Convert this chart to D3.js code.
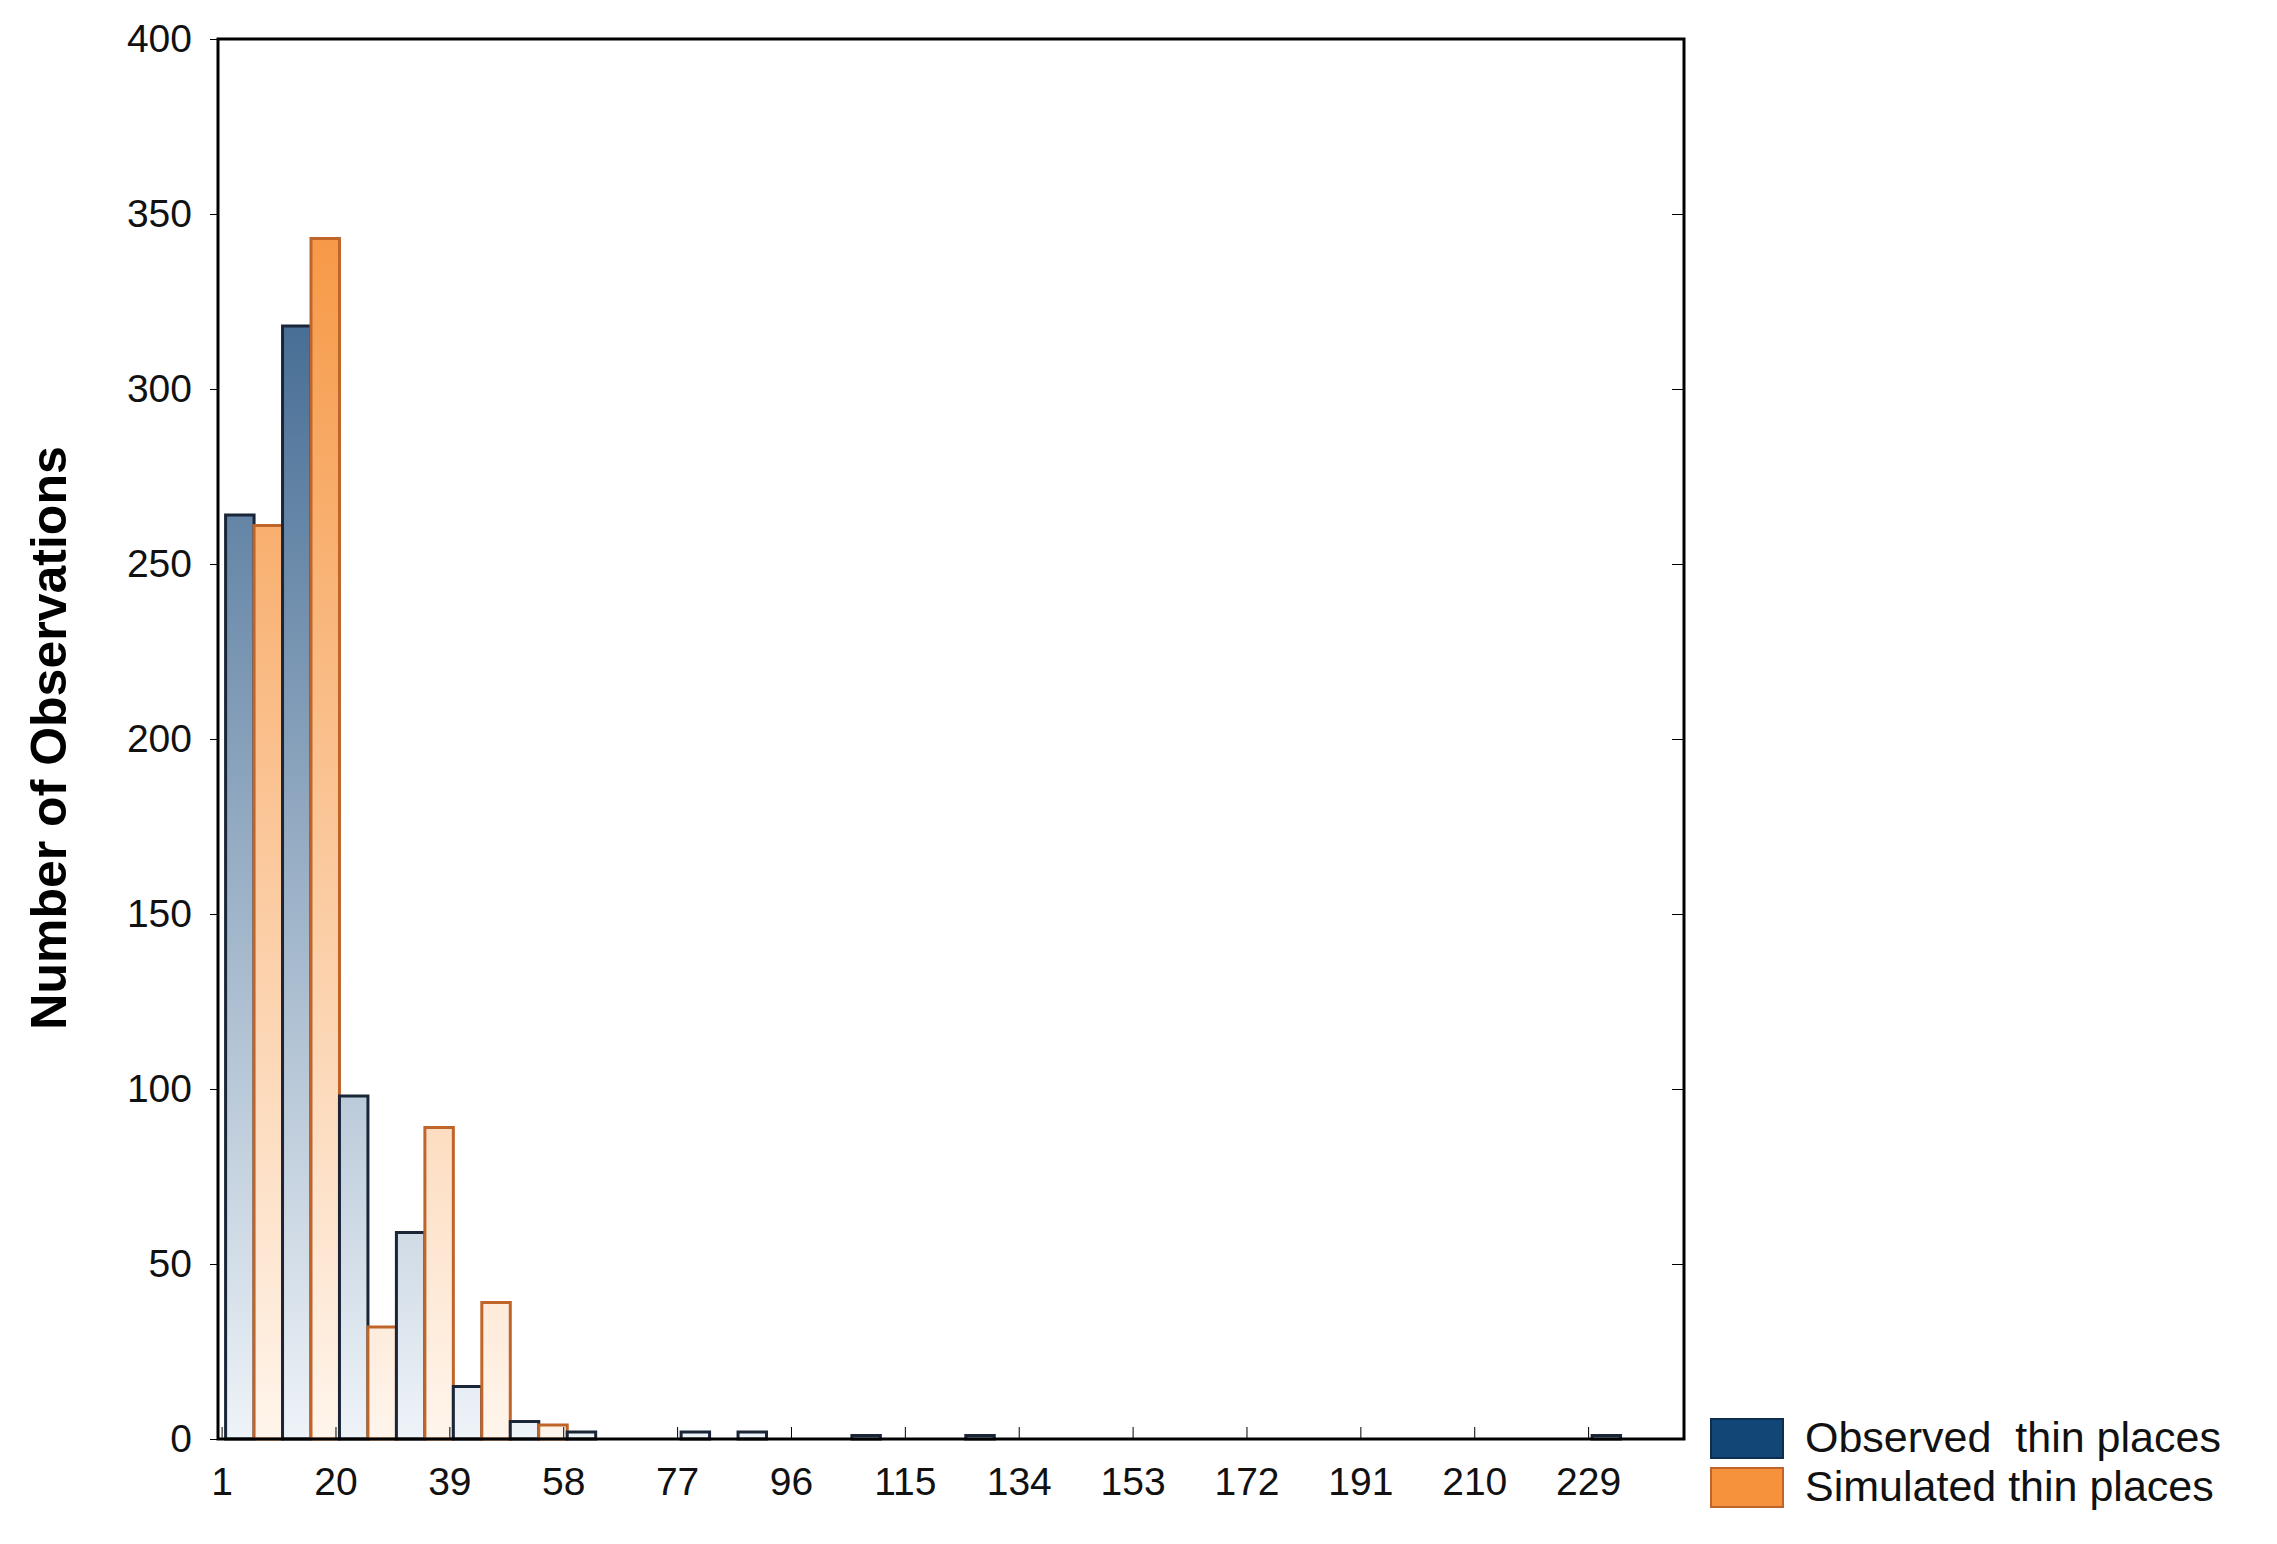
<!DOCTYPE html>
<html><head><meta charset="utf-8">
<script src="https://cdn.jsdelivr.net/npm/d3@7"></script>
<style>body{margin:0;background:#fff}text{font-family:"Liberation Sans Narrow","Arial Narrow","Liberation Sans",Arial,sans-serif}</style>
</head><body><svg width="2277" height="1544"></svg>
<script>
// bins of width 9.5 starting at 1
const binStart = 1, binWidth = 9.5
const observed = [264,318,98,59,15,5,2,0,2,2,0,1,0,1,0,0,0,0,0,0,0,0,0,0,1]
const simulated = [261,343,32,89,39,4,0,0,0,0,0,0,0,0,0,0,0,0,0,0,0,0,0,0,0]
const xTicks = [1,20,39,58,77,96,115,134,153,172,191,210,229]
const yTicks = [0,50,100,150,200,250,300,350,400]

const svg = d3.select('svg')
const m = {l:218, r:1684, t:39, b:1439}
const x = d3.scaleLinear().domain([0.4,245]).range([m.l,m.r])
const y = d3.scaleLinear().domain([0,400]).range([m.b,m.t])

const defs = svg.append('defs')
const grad = (id, top, bot) => {
  const g = defs.append('linearGradient').attr('id',id).attr('gradientUnits','userSpaceOnUse')
    .attr('x1',0).attr('x2',0).attr('y1',y(400)).attr('y2',y(0))
  g.append('stop').attr('offset',0).attr('stop-color',top)
  g.append('stop').attr('offset',1).attr('stop-color',bot)
}
grad('gObs','#1d4c7c','#eef3f8')
grad('gSim','#f58a2c','#fff5ec')

const bars = svg.append('g')
observed.forEach((v,i) => {
  const x0 = binStart + i*binWidth
  if (v > 0) bars.append('rect')
    .attr('x', x(x0)+4).attr('y', y(v)).attr('width', x(x0+binWidth/2)-x(x0)).attr('height', y(0)-y(v))
    .attr('fill','url(#gObs)').attr('stroke','#1a2638').attr('stroke-width',3)
  const s = simulated[i]
  if (s > 0) bars.append('rect')
    .attr('x', x(x0+binWidth/2)+4).attr('y', y(s)).attr('width', x(x0+binWidth)-x(x0+binWidth/2)).attr('height', y(0)-y(s))
    .attr('fill','url(#gSim)').attr('stroke','#c0652a').attr('stroke-width',3)
})

// frame
svg.append('rect').attr('x',m.l).attr('y',m.t).attr('width',m.r-m.l).attr('height',m.b-m.t)
  .attr('fill','none').attr('stroke','#000').attr('stroke-width',3)

const yAxis = svg.append('g').attr('transform',`translate(${m.l},0)`)
  .call(d3.axisLeft(y).tickValues(yTicks).tickSize(8).tickPadding(18))
yAxis.select('.domain').remove()
yAxis.selectAll('text').attr('font-size',39).attr('fill','#111')
svg.append('g').attr('transform',`translate(${m.r},0)`)
  .call(d3.axisLeft(y).tickValues(yTicks).tickSize(12).tickFormat(''))
  .select('.domain').remove()

const xAxis = svg.append('g').attr('transform',`translate(0,${m.b})`)
  .call(d3.axisBottom(x).tickValues(xTicks).tickSize(-12).tickPadding(28))
xAxis.select('.domain').remove()
xAxis.selectAll('text').attr('font-size',39).attr('fill','#111')

svg.append('text').attr('transform','translate(66,738) rotate(-90)')
  .attr('text-anchor','middle').attr('font-size',50).attr('font-weight','bold')
  .style('font-family','"Liberation Sans",Arial,sans-serif').text('Number of Observations')

const legend = [['Observed  thin places','#124677','#0e2e50'],['Simulated thin places','#f7923c','#c0652a']]
legend.forEach((d,i) => {
  const yy = 1419 + i*49
  svg.append('rect').attr('x',1711).attr('y',yy).attr('width',72).attr('height',39)
    .attr('fill',d[1]).attr('stroke',d[2]).attr('stroke-width',2)
  svg.append('text').attr('x',1805).attr('y',yy+33).attr('font-size',43).attr('fill','#111')
    .style('white-space','pre').attr('xml:space','preserve').text(d[0])
})
</script></body></html>
